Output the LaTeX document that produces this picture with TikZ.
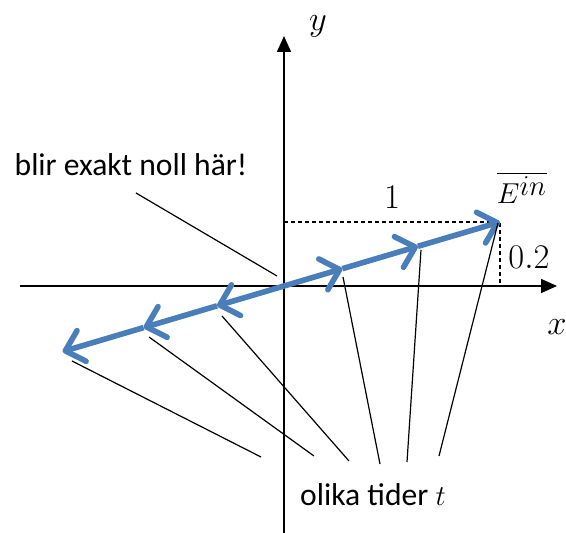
\documentclass[tikz,border=0pt]{standalone}
\usepackage{fontspec}
\setmainfont{Carlito}
\usetikzlibrary{arrows.meta}
\definecolor{fieldblue}{RGB}{74,126,187}

\begin{document}
\begin{tikzpicture}[x=0.5pt, y=0.5pt, font=\fontsize{15.8}{19}\selectfont,
    axis/.style={line width=0.75pt, -{Triangle[length=8pt, width=7pt]}},
    field/.style={line width=2.8pt, fieldblue, -{Straight Barb[length=8.5pt, width=16pt, round]}},
    pointer/.style={line width=0.6pt},
    guide/.style={line width=0.6pt, dash pattern=on 2pt off 1.5pt},
    mathlabel/.style={font=\fontsize{19}{22}\selectfont}]
\useasboundingbox (-284,-247) rectangle (282,286);
\coordinate (O) at (0,0);
\coordinate (xstart) at (-264,0);
\coordinate (xend) at (273,0);
\coordinate (ystart) at (0,-247);
\coordinate (yend) at (0,250);
\draw[axis] (xstart) -- (xend);
\draw[axis] (ystart) -- (yend);
\node[mathlabel] (xlabel) at (273,-41) {$x$};
\node[mathlabel] (ylabel) at (34,260) {$y$};
\coordinate (E) at (216,64);
\coordinate (Ey) at (0,64);
\coordinate (Ex) at (216,0);
\draw[guide] (Ey) -- (E) -- (Ex);
\node[mathlabel] (one) at (108,89) {$1$};
\node[mathlabel] (fifth) at (245,29) {$0.2$};
\node[font=\fontsize{15}{18}\selectfont] (Ein) at (238,98) {$\overline{E^{\textstyle in}}$};
\foreach \name/\f in {r1/0.27, r2/0.62, l1/-0.31, l2/-0.65, l3/-1.025}
    \coordinate (\name) at (\f*216,\f*64);
\draw[field] (O) -- (r1);
\draw[field] (r1) -- (r2);
\draw[field] (r2) -- (E);
\draw[field] (O) -- (l1);
\draw[field] (l1) -- (l2);
\draw[field] (l2) -- (l3);
\foreach \i/\sx/\sy/\ex/\ey in {1/59/9/96/-178, 2/137/36/123/-176, 3/214/63/155/-170,
    4/-62/-30/65/-175, 5/-135/-51/30/-170, 6/-212/-75/-23/-171} {
    \coordinate (p\i) at (\sx,\sy);
    \coordinate (q\i) at (\ex,\ey);
    \draw[pointer] (p\i) -- (q\i);
}
\node (times) at (89,-209) {olika tider $t$};
\node (zero) at (-153,121) {blir exakt noll här!};
\coordinate (zfrom) at (-148,93);
\coordinate (zto) at (-7,10);
\draw[pointer] (zfrom) -- (zto);
\end{tikzpicture}
\end{document}
